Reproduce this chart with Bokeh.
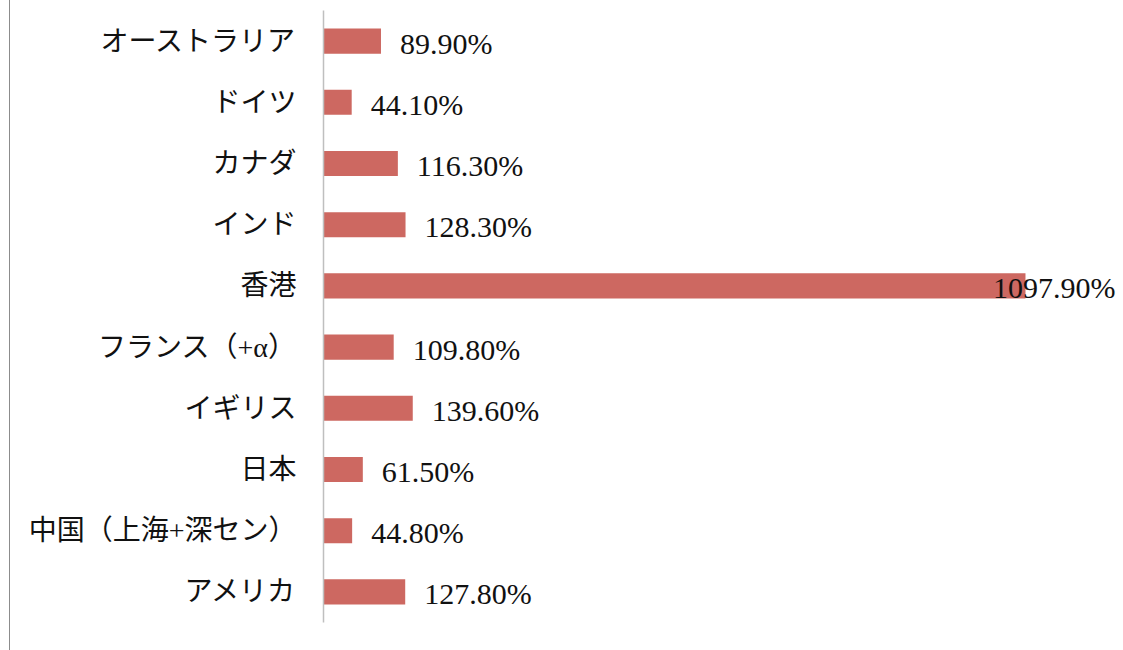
from bokeh.plotting import figure
from bokeh.models import FactorRange, Range1d, ColumnDataSource
from bokeh.core.properties import value
from bokeh.embed import file_html
from bokeh.resources import INLINE

# data (top to bottom as shown)
categories = ["オーストラリア", "ドイツ", "カナダ", "インド", "香港",
              "フランス（+α）", "イギリス", "日本", "中国（上海+深セン）", "アメリカ"]
values = [89.9, 44.1, 116.3, 128.3, 1097.9, 109.8, 139.6, 61.5, 44.8, 127.8]
labels = ["%.2f%%" % v for v in values]

W, H = 1113, 650
left, top, bottom = 313, 10, 28
frame_w = W - left
x_end = 1251.2
scale = frame_w / x_end
label_px = 126  # approx rendered width of a label
gap = 19

lx, lalign, loff = [], [], []
for v in values:
    if v * scale + gap + label_px > frame_w:
        lx.append(x_end); lalign.append("right"); loff.append(-8)
    else:
        lx.append(v); lalign.append("left"); loff.append(gap)

src = ColumnDataSource(dict(cat=categories, val=values, lab=labels,
                            lx=lx, la=lalign, lo=loff))

p = figure(width=W, height=H, output_backend="svg", toolbar_location=None,
           y_range=FactorRange(*reversed(categories), range_padding=0),
           x_range=Range1d(0, x_end),
           min_border_left=left, min_border_top=top, min_border_bottom=bottom,
           min_border_right=0)
p.styles = {"border-left": "1px solid #8c8c8c", "margin-left": "9px"}
p.outline_line_color = None
p.grid.visible = False
p.xaxis.visible = False
p.background_fill_color = "white"
p.border_fill_color = "white"

p.hbar(y="cat", right="val", left=0, height=0.41, source=src,
       fill_color="#CD6861", line_color=None)

p.text(x="lx", y="cat", text="lab", source=src, text_align="la", x_offset="lo",
       y_offset=2, text_baseline="middle", text_font=value("Liberation Serif"),
       text_font_size="30px", text_color="#111111")

ya = p.yaxis[0]
ya.axis_line_color = "#BFBFBF"
ya.axis_line_width = 1.5
ya.major_tick_line_color = None
ya.minor_tick_line_color = None
ya.major_label_standoff = 21
ya.major_label_text_font = "Liberation Serif, 'Noto Sans CJK JP'"
ya.major_label_text_font_size = "28px"
ya.major_label_text_color = "#111111"

open("out.html", "w").write(file_html(p, INLINE))
